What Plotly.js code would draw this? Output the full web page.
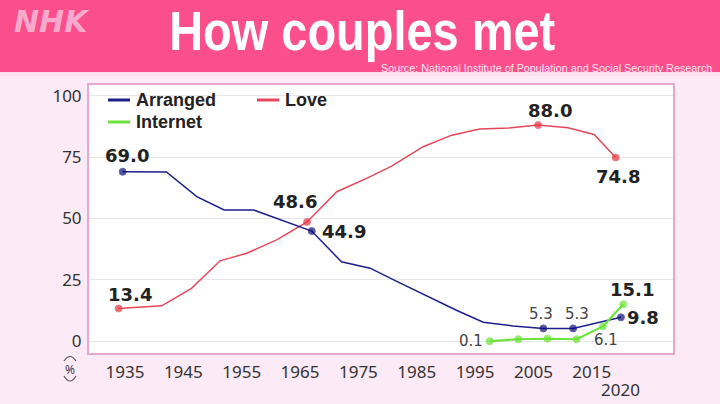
<!DOCTYPE html>
<html><head><meta charset="utf-8">
<script src="https://cdn.plot.ly/plotly-3.0.1.min.js"></script>
<style>html,body{margin:0;padding:0;background:#fceaf7;} #chart{width:720px;height:404px;}</style>
</head><body><div id="chart"></div>
<script>
// ---- data ----
const arrangedYears  = [1934.6, 1942.1, 1947.3, 1952.0, 1957.0, 1961.9, 1967.0, 1972.1, 1977.0, 1982.1, 1987.3, 1991.9, 1996.4, 2001.5, 2006.7, 2011.8, 2020.0];
const arrangedValues = [69.0, 68.9, 58.9, 53.5, 53.5, 49.2, 44.9, 32.4, 29.8, 23.8, 17.7, 12.6, 7.8, 6.3, 5.3, 5.3, 9.8];
const arrangedLabels = ["69.0","","","","","","44.9","","","","","","","","5.3","5.3","9.8"];

const loveYears  = [1933.9, 1941.3, 1946.4, 1951.3, 1955.9, 1961.0, 1966.2, 1971.3, 1976.4, 1980.7, 1986.1, 1991.0, 1995.8, 2000.8, 2005.8, 2010.9, 2015.4, 2019.1];
const loveValues = [13.4, 14.5, 21.6, 32.8, 35.9, 41.3, 48.6, 60.9, 66.3, 71.3, 79.2, 83.9, 86.4, 86.8, 88.0, 86.9, 84.2, 74.8];
const loveLabels = ["13.4","","","","","","48.6","","","","","","","","88.0","","","74.8"];

const internetYears  = [1997.5, 2002.4, 2007.4, 2012.4, 2016.9, 2020.4];
const internetValues = [0.1, 0.9, 1.1, 0.9, 6.1, 15.1];
const internetLabels = ["0.1","","","","6.1","15.1"];

const seriesNames = ["Arranged", "Love", "Internet"];
const xTickYears = [1935, 1945, 1955, 1965, 1975, 1985, 1995, 2005, 2015];
const xTickText  = ["1935","1945","1955","1965","1975","1985","1995","2005","2015"];
const extraTickYear = 2020;
const extraTickText = "2020";
const yTickVals = [0, 25, 50, 75, 100];
const yTickText = ["0","25","50","75","100"];
const titleText = "How couples met";
const sourceText = "Source: National Institute of Population and Social Security Research";
const logoText = "NHK";
const unitText = "%";

// ---- styles / layout geometry ----
const W = 720, H = 404;
const M = {l: 89, r: 47, t: 85, b: 51};
const PW = W - M.l - M.r, PH = H - M.t - M.b;
const xp = px => (px - M.l) / PW;
const yp = py => (H - M.b - py) / PH;

const colors = {arranged: "#1f1f8c", love: "#e5475a", internet: "#6ee23c"};
const markerColors = {arranged: "#0c0c78", love: "#e8303f", internet: "#66e632"};
const big = {family: "DejaVu Sans", size: 18, color: "#222", weight: 700};
const small = {family: "DejaVu Sans", size: 15, color: "#444"};
// label offsets in pixels [dx, dy(down), style]
const labelStyle = {
  arranged: {0: [4, -16, big], 6: [32, 0, big], 14: [-2, -14, small], 15: [4, -14, small], 16: [22, 0, big]},
  love: {0: [11, -14, big], 6: [-12, -20, big], 14: [12, -15, big], 17: [2, 19, big]},
  internet: {0: [-19, 0, small], 4: [3, 14, small], 5: [9, -15, big]}
};

function trace(key, xs, ys, labels, allMarkers, width) {
  return {
    type: "scatter", mode: "lines+markers", name: key,
    x: xs, y: ys,
    line: {color: colors[key], width: width},
    marker: {color: markerColors[key], size: labels.map(l => (l || allMarkers) ? 7 : 0)},
    showlegend: false, hoverinfo: "skip"
  };
}
const data = [
  trace("love", loveYears, loveValues, loveLabels, false, 1.5),
  trace("arranged", arrangedYears, arrangedValues, arrangedLabels, false, 1.5),
  trace("internet", internetYears, internetValues, internetLabels, true, 2.2)
];

const annotations = [];
function addLabels(key, xs, ys, labels) {
  labels.forEach((t, i) => {
    if (!t) return;
    const s = labelStyle[key][i];
    annotations.push({xref: "x", yref: "y", x: xs[i], y: ys[i], text: t, showarrow: false,
      xanchor: "center", yanchor: "middle", xshift: s[0], yshift: -s[1], font: s[2]});
  });
}
addLabels("arranged", arrangedYears, arrangedValues, arrangedLabels);
addLabels("love", loveYears, loveValues, loveLabels);
addLabels("internet", internetYears, internetValues, internetLabels);

function paperText(text, px, py, xanchor, font) {
  annotations.push({xref: "paper", yref: "paper", x: xp(px), y: yp(py), text: text, showarrow: false,
    xanchor: xanchor, yanchor: "middle", font: font});
}
// header
paperText(titleText, 362, 31, "center", {family: "Liberation Sans", size: 55, color: "#ffffff", weight: 700});
paperText("<b><i>" + logoText + "</i></b>", 12, 21, "left", {family: "DejaVu Sans", size: 30, color: "#f9a9cc"});
paperText(sourceText, 714, 68, "right", {family: "Liberation Sans", size: 10.8, color: "#ffe6f2"});
// legend
const legendItems = [
  {key: "arranged", name: seriesNames[0], x: 108, y: 100},
  {key: "love", name: seriesNames[1], x: 257, y: 100},
  {key: "internet", name: seriesNames[2], x: 108, y: 122}
];
const shapes = [
  {type: "rect", xref: "paper", yref: "paper", x0: xp(0), x1: xp(W), y0: yp(72), y1: yp(0), fillcolor: "#fb4f8c", line: {width: 0}},
  {type: "rect", xref: "paper", yref: "paper", x0: xp(0), x1: xp(W), y0: yp(76), y1: yp(72), fillcolor: "#fde0f0", line: {width: 0}}
];
legendItems.forEach(it => {
  shapes.push({type: "line", xref: "paper", yref: "paper", x0: xp(it.x), x1: xp(it.x + 22), y0: yp(it.y), y1: yp(it.y),
    line: {color: colors[it.key], width: 3}});
  paperText("<b>" + it.name + "</b>", it.x + 26, it.y, "left", {family: "Liberation Sans", size: 18, color: "#222"});
});
// 2020 tick below the others
annotations.push({xref: "x", yref: "paper", x: extraTickYear, y: yp(389), text: extraTickText, showarrow: false,
  xanchor: "center", yanchor: "middle", font: {family: "Noto Sans", size: 17, color: "#333"}});
// unit (%) with vertical brackets drawn as arcs
paperText(unitText, 70, 369, "center", {family: "Noto Sans", size: 12, color: "#444"});
function arc(xa, ya, xc, yc, xb, yb) {
  return {type: "path", xref: "paper", yref: "paper",
    path: `M ${xp(xa)},${yp(ya)} Q ${xp(xc)},${yp(yc)} ${xp(xb)},${yp(yb)}`,
    line: {color: "#555", width: 1.2}};
}
shapes.push(arc(64, 361, 70, 352, 76, 361));
shapes.push(arc(64, 376, 70, 386, 76, 376));

const layout = {
  width: W, height: H, margin: M,
  paper_bgcolor: "#fceaf7", plot_bgcolor: "#ffffff",
  showlegend: false,
  xaxis: {range: [1928.83, 2028.92], tickvals: xTickYears, ticktext: xTickText, showgrid: false, zeroline: false,
    showline: true, mirror: true, linecolor: "#e8a8d0", linewidth: 2, ticks: "", ticklabelstandoff: 3,
    tickfont: {family: "Noto Sans", size: 17, color: "#333"}},
  yaxis: {range: [-4.7, 104.3], tickvals: yTickVals, ticktext: yTickText, showgrid: true, gridcolor: "#e8e8e8", gridwidth: 1,
    zeroline: false, showline: true, mirror: true, linecolor: "#e8a8d0", linewidth: 2, ticks: "", ticklabelstandoff: 2,
    tickfont: {family: "Noto Sans", size: 17, color: "#333"}},
  shapes: shapes, annotations: annotations
};
Plotly.newPlot("chart", data, layout, {staticPlot: true, displayModeBar: false}).then(gd => {
  // condense the header title horizontally, like the reference's narrow typeface
  gd.querySelectorAll(".annotation-text").forEach(t => {
    if (t.textContent === titleText) {
      t.setAttribute("textLength", "386");
      t.setAttribute("lengthAdjust", "spacingAndGlyphs");
    }
  });
});
</script>
</body></html>
